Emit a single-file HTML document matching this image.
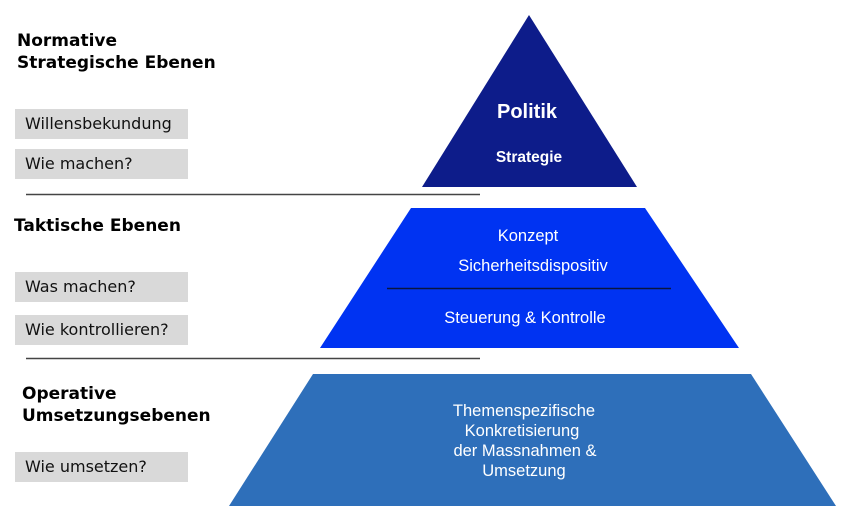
<!DOCTYPE html>
<html><head><meta charset="utf-8"><style>
body{margin:0;width:850px;height:522px;background:#fff;overflow:hidden;position:relative}
.h{position:absolute;font-family:"DejaVu Sans",Verdana,sans-serif;font-weight:bold;font-size:17px;color:#000;line-height:22px}
.b{position:absolute;left:15px;width:173px;height:30px;background:#d9d9d9;font-family:"DejaVu Sans",Verdana,sans-serif;font-size:16px;line-height:30px;padding-left:10px;box-sizing:border-box;color:#111}
svg{position:absolute;left:0;top:0}
</style></head><body>
<div class="h" style="left:17px;top:30px">Normative<br>Strategische Ebenen</div>
<div class="b" style="top:109px">Willensbekundung</div>
<div class="b" style="top:149px">Wie machen?</div>
<div class="h" style="left:14px;top:215px">Taktische Ebenen</div>
<div class="b" style="top:272px">Was machen?</div>
<div class="b" style="top:315px">Wie kontrollieren?</div>
<div class="h" style="left:22px;top:383px">Operative<br>Umsetzungsebenen</div>
<div class="b" style="top:452px">Wie umsetzen?</div>
<svg width="850" height="522" font-family="Liberation Sans, Arial, sans-serif" fill="#fff">
<line x1="26" y1="194.5" x2="480" y2="194.5" stroke="#444" stroke-width="1.5"/>
<line x1="26" y1="358.5" x2="480" y2="358.5" stroke="#444" stroke-width="1.5"/>
<polygon points="529,15 637,187 422,187" fill="#0d1c8a"/>
<text x="527" y="118" font-size="20" font-weight="bold" text-anchor="middle" fill="#fff">Politik</text>
<text x="529" y="162" font-size="15.5" font-weight="bold" text-anchor="middle" fill="#fff">Strategie</text>
<polygon points="411,208 645,208 739,348 320,348" fill="#0033f2"/>
<text x="528" y="241" font-size="16.5" text-anchor="middle" fill="#fff">Konzept</text>
<text x="533" y="271" font-size="16.5" text-anchor="middle" fill="#fff">Sicherheitsdispositiv</text>
<line x1="387" y1="288.5" x2="671" y2="288.5" stroke="#0a1640" stroke-width="1.5"/>
<text x="525" y="323" font-size="16.5" text-anchor="middle" fill="#fff">Steuerung &amp; Kontrolle</text>
<polygon points="313,374 751,374 836,506 229,506" fill="#2e6fba"/>
<text x="524" y="416" font-size="16.5" text-anchor="middle" fill="#fff">Themenspezifische</text>
<text x="522" y="436" font-size="16.5" text-anchor="middle" fill="#fff">Konkretisierung</text>
<text x="525" y="456" font-size="16.5" text-anchor="middle" fill="#fff">der Massnahmen &amp;</text>
<text x="524" y="476" font-size="16.5" text-anchor="middle" fill="#fff">Umsetzung</text>
</svg>
</body></html>
